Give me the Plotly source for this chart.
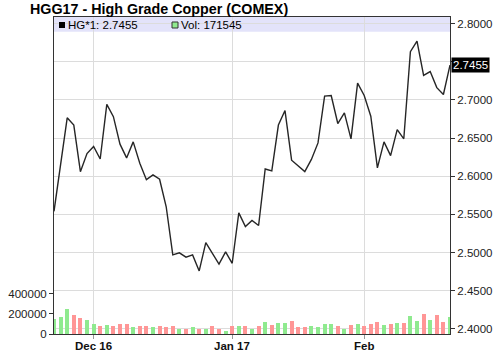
import plotly.graph_objects as go

# ---- data ----
price = [2.554, 2.615, 2.6765, 2.667, 2.606, 2.6296, 2.639, 2.6226, 2.694, 2.678,
         2.642, 2.624, 2.645, 2.617, 2.5955, 2.6017, 2.596, 2.560, 2.497, 2.4997,
         2.494, 2.497, 2.476, 2.513, 2.4993, 2.485, 2.501, 2.486, 2.552, 2.534,
         2.542, 2.5355, 2.6095, 2.607, 2.667, 2.686, 2.621, 2.6135, 2.606, 2.622,
         2.6436, 2.705, 2.7057, 2.669, 2.683, 2.649, 2.722, 2.7057, 2.6786, 2.611,
         2.645, 2.627, 2.661, 2.649, 2.763, 2.777, 2.732, 2.737, 2.716, 2.707,
         2.7455]
volume = [150000, 167000, 253000, 190000, 157000, 143000, 103000, 80000, 90000, 80000,
          103000, 103000, 67000, 80000, 80000, 67000, 80000, 67000, 80000, 53000,
          47000, 67000, 47000, 47000, 80000, 47000, 33000, 80000, 80000, 80000,
          53000, 77000, 123000, 90000, 110000, 110000, 133000, 67000, 67000, 77000,
          67000, 100000, 100000, 77000, 53000, 90000, 100000, 77000, 100000, 123000,
          90000, 103000, 110000, 110000, 177000, 133000, 203000, 143000, 190000, 123000,
          171545]
month_tick_index = [6, 27, 47]
month_tick_text = ["Dec 16", "Jan 17", "Feb"]
price_ticks = [2.40, 2.45, 2.50, 2.55, 2.60, 2.65, 2.70, 2.75, 2.80]
vol_ticks = [0, 200000, 400000]

idx = list(range(len(price)))
UP, DOWN = "#8FEA8F", "#FF9696"
bar_colors = [UP] + [UP if price[i] >= price[i - 1] else DOWN for i in range(1, len(price))]

FONT = "Liberation Sans, Arial, Helvetica, sans-serif"
W, H = 500, 351
L, R, T, B = 54, 50, 17, 17
PW, PH = W - L - R, H - T - B


def px(x):
    return (x - L) / PW


def py(y):
    return (H - B - y) / PH


# the last-price marker covers the tick label it sits on
price_ticktext = ["" if abs(v - price[-1]) < 0.01 else f"{v:.4f}" for v in price_ticks]

fig = go.Figure()
fig.add_trace(go.Bar(x=idx, y=volume, marker=dict(color=bar_colors, line=dict(width=0)),
                     width=0.62, yaxis="y2", hoverinfo="skip"))
fig.add_trace(go.Scatter(x=idx, y=price, mode="lines", line=dict(color="#262626", width=1.4),
                         yaxis="y", hoverinfo="skip"))

fig.update_layout(
    width=W, height=H, margin=dict(l=L, r=R, t=T, b=B, autoexpand=False),
    paper_bgcolor="white", plot_bgcolor="white", showlegend=False,
    font=dict(family=FONT, size=11.5, color="#222222"),
    bargap=0,
    xaxis=dict(range=[0, len(price) - 1], tickmode="array", tickvals=month_tick_index,
               showticklabels=False,
               showgrid=True, gridcolor="#DCDCDC", gridwidth=1, automargin=False,
               showline=True, linecolor="#333333", linewidth=1, mirror=True,
               ticks="outside", ticklen=4, tickcolor="#999999", zeroline=False,
               fixedrange=True),
    yaxis=dict(side="right", range=[2.3934, 2.8085], tickmode="array", tickvals=price_ticks,
               ticktext=price_ticktext, showgrid=True, gridcolor="#DCDCDC", automargin=False,
               gridwidth=1, showline=True, linecolor="#333333", linewidth=1, mirror=True,
               ticks="outside", ticklen=4, tickcolor="#333333", zeroline=False,
               tickfont=dict(family=FONT, size=11.5, color="#222")),
    yaxis2=dict(side="left", overlaying="y", range=[0, 3165000], tickmode="array",
                tickvals=vol_ticks, ticktext=[str(v) for v in vol_ticks], showgrid=False,
                showline=True, linecolor="#333333", linewidth=1, ticks="outside", ticklen=4,
                tickcolor="#333333", zeroline=False, automargin=False,
                tickfont=dict(family=FONT, size=11.5, color="#222")),
)

# month labels under the axis
for ti, tt in zip(month_tick_index, month_tick_text):
    fig.add_annotation(xref="x", yref="paper", x=ti, y=py(346), xanchor="center", yanchor="middle",
                       text=f"<b>{tt}</b>", showarrow=False,
                       font=dict(family=FONT, size=11.5, color="#111"))

# header band
fig.add_shape(type="rect", xref="paper", yref="paper", x0=0, x1=1, y0=py(31.7), y1=1,
              fillcolor="#E3E3FA", line=dict(width=0), layer="below")
# legend swatches
fig.add_shape(type="rect", xref="paper", yref="paper", x0=px(59), x1=px(65), y0=py(28), y1=py(22),
              fillcolor="#000000", line=dict(width=0))
fig.add_shape(type="rect", xref="paper", yref="paper", x0=px(172), x1=px(178), y0=py(28), y1=py(22),
              fillcolor=UP, line=dict(color="#333333", width=1))

fig.add_annotation(xref="paper", yref="paper", x=px(66), y=py(25), xanchor="left", yanchor="middle",
                   text=f"HG*1: {price[-1]:.4f}", showarrow=False,
                   font=dict(family=FONT, size=11.5, color="#000"))
fig.add_annotation(xref="paper", yref="paper", x=px(179), y=py(25), xanchor="left", yanchor="middle",
                   text=f"Vol: {volume[-1]}", showarrow=False,
                   font=dict(family=FONT, size=11.5, color="#000"))

# title
fig.add_annotation(xref="paper", yref="paper", x=px(28), y=py(9.5), xanchor="left", yanchor="middle",
                   text="<b>HGG17 - High Grade Copper (COMEX)</b>", showarrow=False,
                   font=dict(family=FONT, size=14.3, color="#000"))

# last price marker
fig.add_annotation(xref="paper", yref="y", x=1, y=price[-1], xanchor="left", yanchor="middle",
                   xshift=1, text=f"{price[-1]:.4f}", showarrow=False, bgcolor="#000000",
                   borderpad=1, font=dict(family=FONT, size=11.5, color="#FFFFFF"))

fig.write_html("out.html")
